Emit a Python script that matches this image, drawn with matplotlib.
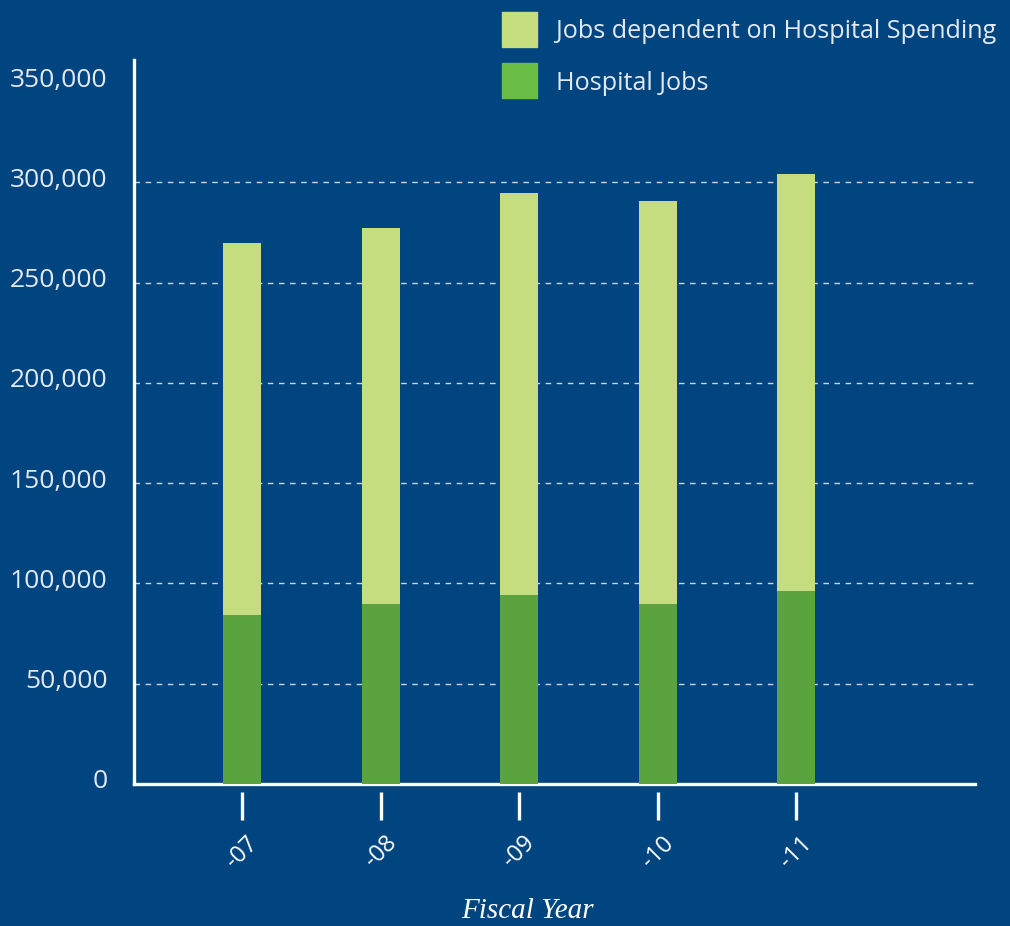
import matplotlib
matplotlib.use('Agg')
import matplotlib.pyplot as plt
from matplotlib.patches import Rectangle
from matplotlib.ticker import FuncFormatter
from matplotlib.transforms import ScaledTranslation

years = ['-07', '-08', '-09', '-10', '-11']
hospital_jobs = [84500, 90000, 94000, 90000, 96000]
total_jobs = [270000, 277000, 294500, 290500, 304000]
dependent_jobs = [t - h for t, h in zip(total_jobs, hospital_jobs)]
legend_labels = ['Jobs dependent on Hospital Spending', 'Hospital Jobs']

bg = '#004580'
light_green = '#c6dd7f'
dark_green = '#5ba33e'
legend_green = '#6abd45'
txt = '#e3e9f1'

plt.rcParams['font.family'] = ['Open Sans', 'DejaVu Sans']

W, H = 1010, 926
fig = plt.figure(figsize=(W / 100, H / 100), dpi=100, facecolor=bg)
ax = fig.add_axes([134 / W, 1 - 784 / H, (975 - 134) / W, (784 - 60) / H])
ax.set_facecolor(bg)

x = list(range(len(years)))
ax.bar(x, hospital_jobs, width=0.274, color=dark_green, zorder=3)
ax.bar(x, dependent_jobs, bottom=hospital_jobs, width=0.274, color=light_green, zorder=3)

ax.set_xlim(-0.78, 5.29)
ax.set_ylim(0, 361000)

for v in range(50000, 300001, 50000):
    ax.axhline(v, color='#c9d6e6', lw=1.0, ls=(0, (4, 4)), zorder=1)

for s in ['top', 'right']:
    ax.spines[s].set_visible(False)
for s in ['left', 'bottom']:
    ax.spines[s].set_color('white')
    ax.spines[s].set_linewidth(2.4)

ax.set_yticks(range(0, 350001, 50000))
ax.yaxis.set_major_formatter(FuncFormatter(lambda v, p: f'{int(v):,}'))
ax.tick_params(axis='y', length=0, pad=19, labelsize=19, labelcolor=txt)
shift = ScaledTranslation(0, 5 / 100, fig.dpi_scale_trans)
for lab in ax.get_yticklabels():
    lab.set_transform(lab.get_transform() + shift)

ax.set_xticks(x)
ax.set_xticklabels(years, rotation=45)
ax.tick_params(axis='x', length=0, pad=34, labelsize=17, labelcolor='white')
ax.vlines(x, -0.011, -0.05, transform=ax.get_xaxis_transform(), color='white',
          lw=2.4, clip_on=False)

fig.text(527 / W, 1 - 911 / H, 'Fiscal Year', ha='center', va='center',
         family='Liberation Serif', style='italic', fontsize=21, color='white')

# legend drawn by hand so the squares match the reference size
for i, (lab, col) in enumerate(zip(legend_labels, [light_green, legend_green])):
    top = 12 + i * 51
    fig.patches.append(Rectangle((502 / W, 1 - (top + 35) / H), 35 / W, 35 / H,
                                 transform=fig.transFigure, color=col))
    fig.text(556 / W, 1 - (top + 20) / H, lab, ha='left', va='center',
             fontsize=18.1, color=txt)

fig.savefig('out.png', dpi=100, facecolor=bg)
